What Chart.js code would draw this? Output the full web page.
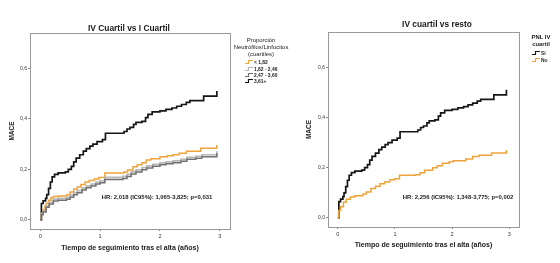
<!DOCTYPE html>
<html>
<head>
<meta charset="utf-8">
<script src="https://cdn.jsdelivr.net/npm/chart.js@4.4.0/dist/chart.umd.min.js"></script>
<style>
  body { margin: 0; background: #fff; width: 560px; height: 263px; position: relative; overflow: hidden;
         font-family: "Liberation Sans", Arial, sans-serif; color: #1a1a1a; }
  canvas { position: absolute; top: 0; }
  .txt { position: absolute; white-space: nowrap; transform: translate(-50%, -50%); }
  .title { font-weight: bold; font-size: 8.4px; }
  .hr { font-weight: bold; font-size: 5.9px; }
  .leg { position: absolute; font-size: 5.9px; line-height: 7px; text-align: center; transform: translateX(-50%); white-space: nowrap; }
  .item { position: absolute; font-size: 4.9px; font-weight: bold; white-space: nowrap; display: flex; align-items: center; transform: translateY(-50%); }
  .item svg { margin-right: 1px; }
</style>
</head>
<body>
<canvas id="left" width="280" height="263" style="left:0"></canvas>
<canvas id="right" width="280" height="263" style="left:280px"></canvas>

<div class="txt title" style="left:129px;top:28px">IV Cuartil vs I Cuartil</div>
<div class="txt title" style="left:437px;top:24px">IV cuartil vs resto</div>
<div class="txt hr" style="left:157px;top:197px">HR: 2,018 (IC95%): 1,065-3,825; p=0,031</div>
<div class="txt hr" style="left:458px;top:197px">HR: 2,256 (IC95%): 1,348-3,775; p=0,002</div>

<div class="leg" style="left:261px;top:37px">Proporción<br>Neutrófilos/Linfocitos<br>(cuartiles)</div>
<div id="legLeft"></div>
<div class="leg" style="left:541px;top:34px;font-weight:bold">PNL IV<br>cuartil</div>
<div id="legRight"></div>

<script>
// tiempo (años) y MACE acumulado, curvas Kaplan-Meier
const q4T = [0, 0.02, 0.05, 0.09, 0.11, 0.14, 0.17, 0.2, 0.24, 0.3, 0.42, 0.47, 0.52, 0.56, 0.6, 0.66, 0.72, 0.77, 0.83, 0.88, 0.95, 1.04, 1.09, 1.4, 1.45, 1.5, 1.56, 1.6, 1.7, 1.76, 1.8, 1.87, 2.0, 2.1, 2.2, 2.28, 2.36, 2.44, 2.5, 2.73, 2.95];
const q4Y = [0, 0.065, 0.075, 0.085, 0.1, 0.125, 0.15, 0.17, 0.18, 0.186, 0.19, 0.2, 0.212, 0.23, 0.245, 0.258, 0.272, 0.282, 0.292, 0.3, 0.31, 0.318, 0.343, 0.35, 0.36, 0.366, 0.378, 0.386, 0.39, 0.405, 0.418, 0.428, 0.432, 0.438, 0.443, 0.45, 0.457, 0.465, 0.472, 0.49, 0.51];

const q1T = [0, 0.02, 0.05, 0.08, 0.1, 0.14, 0.18, 0.22, 0.3, 0.44, 0.5, 0.56, 0.62, 0.68, 0.75, 0.82, 0.9, 0.98, 1.08, 1.4, 1.46, 1.55, 1.62, 1.7, 1.77, 1.85, 2.0, 2.12, 2.22, 2.32, 2.44, 2.68, 2.95];
const q1Y = [0, 0.026, 0.04, 0.055, 0.066, 0.078, 0.088, 0.093, 0.095, 0.1, 0.11, 0.122, 0.13, 0.14, 0.15, 0.156, 0.162, 0.168, 0.186, 0.19, 0.198, 0.21, 0.218, 0.226, 0.237, 0.242, 0.25, 0.254, 0.258, 0.264, 0.272, 0.284, 0.297];

const q2T = [0, 0.02, 0.05, 0.1, 0.15, 0.22, 0.3, 0.44, 0.5, 0.56, 0.62, 0.7, 0.77, 0.85, 0.93, 1.0, 1.08, 1.38, 1.45, 1.52, 1.6, 1.7, 1.78, 1.88, 2.0, 2.1, 2.22, 2.35, 2.45, 2.6, 2.7, 2.95];
const q2Y = [0, 0.024, 0.037, 0.056, 0.07, 0.082, 0.085, 0.089, 0.098, 0.108, 0.116, 0.126, 0.135, 0.142, 0.15, 0.155, 0.168, 0.172, 0.18, 0.19, 0.198, 0.207, 0.214, 0.22, 0.226, 0.23, 0.234, 0.24, 0.248, 0.252, 0.258, 0.272];

const q3T = [0, 0.02, 0.05, 0.1, 0.15, 0.22, 0.3, 0.44, 0.5, 0.56, 0.62, 0.7, 0.77, 0.85, 0.93, 1.0, 1.08, 1.38, 1.45, 1.52, 1.6, 1.7, 1.78, 1.88, 2.0, 2.1, 2.22, 2.35, 2.45, 2.6, 2.7, 2.95];
const q3Y = [0, 0.02, 0.031, 0.05, 0.063, 0.075, 0.078, 0.082, 0.09, 0.1, 0.108, 0.118, 0.127, 0.134, 0.142, 0.147, 0.16, 0.164, 0.172, 0.182, 0.19, 0.199, 0.206, 0.212, 0.218, 0.222, 0.226, 0.232, 0.24, 0.244, 0.25, 0.264];

const restT = [0, 0.02, 0.05, 0.1, 0.15, 0.22, 0.3, 0.44, 0.5, 0.58, 0.66, 0.74, 0.82, 0.91, 1.0, 1.08, 1.36, 1.44, 1.52, 1.66, 1.74, 1.83, 1.95, 2.02, 2.24, 2.36, 2.47, 2.69, 2.95];
const restY = [0, 0.03, 0.045, 0.062, 0.074, 0.083, 0.088, 0.095, 0.103, 0.117, 0.126, 0.136, 0.143, 0.152, 0.156, 0.17, 0.172, 0.18, 0.19, 0.2, 0.208, 0.218, 0.224, 0.228, 0.235, 0.245, 0.25, 0.258, 0.27];

const xTicks = [0, 1, 2, 3];
const yTicks = [0, 0.2, 0.4, 0.6];

const leftLabels = ["< 1,82", "1,82 - 2,46", "2,47 - 3,60", "3,61+"];
const rightLabels = ["Sí", "No"];

const BLACK = "#161616";
const ORANGE = "#eea43a";
const LGRAY = "#b8b8b8";
const DGRAY = "#707070";
const FONT = "'Liberation Sans', Arial, sans-serif";

function pts(t, y) {
  return t.map((v, i) => ({ x: v, y: y[i] }));
}

function series(t, y, color, width) {
  return {
    data: pts(t, y),
    borderColor: color,
    borderWidth: width,
    stepped: true,
    pointRadius: 0,
    fill: false,
  };
}

const frame = {
  id: "frame",
  beforeDatasetsDraw(chart) {
    const a = chart.chartArea;
    const ctx = chart.ctx;
    ctx.save();
    ctx.strokeStyle = "#9a9a9a";
    ctx.lineWidth = 1;
    ctx.strokeRect(Math.round(a.left) + 0.5, Math.round(a.top) + 0.5, Math.round(a.width), Math.round(a.height));
    ctx.restore();
  },
};

function makeChart(id, datasets, lay) {
  return new Chart(document.getElementById(id), {
    type: "line",
    data: { datasets },
    plugins: [frame],
    options: {
      responsive: false,
      animation: false,
      devicePixelRatio: 1,
      layout: { padding: { left: lay.padL, right: lay.padR, top: lay.padT, bottom: lay.padB } },
      plugins: { legend: { display: false }, tooltip: { enabled: false } },
      scales: {
        x: {
          type: "linear",
          min: -0.17,
          max: 3.17,
          afterBuildTicks: (s) => { s.ticks = xTicks.map((v) => ({ value: v })); },
          afterFit: (s) => { s.height = lay.xH; },
          ticks: { font: { size: 5.5, family: FONT }, color: "#333", padding: 2, maxRotation: 0, autoSkip: false, callback: (v) => String(v) },
          grid: { drawOnChartArea: false, tickLength: 2, color: "#888" },
          border: { display: false },
          title: { display: true, text: "Tiempo de seguimiento tras el alta (años)", padding: 0, color: "#1a1a1a", font: { size: 7, weight: "bold", family: FONT } },
        },
        y: {
          type: "linear",
          min: -0.036,
          max: 0.74,
          afterBuildTicks: (s) => { s.ticks = yTicks.map((v) => ({ value: v })); },
          afterFit: (s) => { s.width = lay.yW; },
          ticks: { font: { size: 5, family: FONT }, color: "#333", padding: 1, autoSkip: false, callback: (v) => v.toFixed(1).replace(".", ",") },
          grid: { drawOnChartArea: false, tickLength: 2, color: "#888" },
          border: { display: false },
          title: { display: true, text: "MACE", padding: 0, color: "#1a1a1a", font: { size: 6.5, weight: "bold", family: FONT } },
        },
      },
    },
  });
}

makeChart("left", [
  series(q3T, q3Y, DGRAY, 1.5),
  series(q2T, q2Y, LGRAY, 1.7),
  series(q1T, q1Y, ORANGE, 1.5),
  series(q4T, q4Y, BLACK, 1.7),
], { padL: 8, padR: 50, padT: 33, padB: 11, yW: 22, xH: 23 });

makeChart("right", [
  series(restT, restY, ORANGE, 1.5),
  series(q4T, q4Y, BLACK, 1.7),
], { padL: 25, padR: 41, padT: 32, padB: 14, yW: 23, xH: 22 });

function icon(color) {
  return '<svg width="8" height="5" viewBox="0 0 8 5"><path d="M0,4 H3.5 V1 H8" fill="none" stroke="' + color + '" stroke-width="1.2"/></svg>';
}

function legend(elId, labels, colors, x, ys) {
  const el = document.getElementById(elId);
  labels.forEach((lab, i) => {
    const d = document.createElement("div");
    d.className = "item";
    d.style.left = x + "px";
    d.style.top = ys[i] + "px";
    d.innerHTML = icon(colors[i]) + "<span></span>";
    d.querySelector("span").textContent = lab;
    el.appendChild(d);
  });
}

legend("legLeft", leftLabels, [ORANGE, LGRAY, DGRAY, BLACK], 245, [62, 68.5, 75, 81]);
legend("legRight", rightLabels, [BLACK, ORANGE], 532, [53, 59.5]);
</script>
</body>
</html>
